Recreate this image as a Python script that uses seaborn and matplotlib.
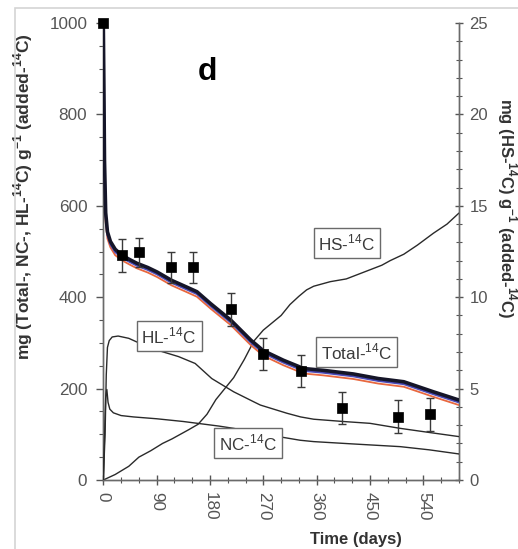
import matplotlib
matplotlib.use("Agg")
import matplotlib.pyplot as plt
from matplotlib.patches import Rectangle
from matplotlib.ticker import MultipleLocator
import seaborn as sns
import pandas as pd

# ---------------- data ----------------
total_days = [0, 1, 2, 4, 7, 12, 20, 31, 45, 57, 75, 91, 115, 141, 158, 181, 215, 249, 270, 304, 338, 371, 422, 464, 507, 557, 600]
total_black = [1000, 860, 700, 585, 543, 522, 505, 492, 482, 474, 465, 455, 437, 422, 412, 386, 350, 306, 283, 262, 244, 240, 232, 222, 215, 193, 175]
total_blue = [1000, 855, 695, 578, 537, 516, 499, 487, 477, 469, 460, 450, 432, 417, 407, 381, 345, 301, 278, 257, 239, 235, 227, 217, 210, 188, 170]
total_red = [1000, 845, 680, 565, 528, 509, 492, 481, 471, 463, 454, 444, 426, 411, 401, 375, 339, 295, 272, 251, 233, 229, 221, 211, 204, 182, 164]

hl_days = [0, 3, 5, 7, 10, 15, 25, 43, 60, 80, 99, 127, 155, 183, 197, 220, 254, 265, 290, 310, 333, 355, 405, 450, 501, 550, 600]
hl_vals = [0, 100, 230, 290, 305, 313, 315, 310, 300, 292, 281, 270, 255, 222, 211, 193, 171, 164, 154, 146, 138, 133, 128, 124, 113, 104, 95]

nc_days = [0, 2, 4, 6, 8, 11, 17, 30, 51, 90, 135, 195, 220, 265, 300, 332, 355, 420, 501, 550, 600]
nc_vals = [0, 90, 180, 198, 170, 155, 147, 141, 138, 134, 128, 118, 113, 102, 94, 87, 84, 79, 73, 66, 57]

hs_days = [0, 10, 20, 43, 60, 80, 100, 116, 144, 160, 175, 190, 205, 220, 238, 254, 270, 285, 300, 315, 330, 343, 355, 383, 410, 434, 470, 484, 507, 530, 557, 580, 600]
hs_vals = [0, 0.15, 0.3, 0.75, 1.25, 1.6, 2.0, 2.25, 2.75, 3.05, 3.6, 4.4, 5.0, 5.6, 6.6, 7.6, 8.2, 8.6, 9.0, 9.6, 10.05, 10.4, 10.6, 10.85, 11.0, 11.3, 11.75, 12.0, 12.35, 12.85, 13.5, 14.0, 14.6]

pt_days = [0, 31, 60, 115, 151, 215, 270, 333, 402, 497, 552]
pt_vals = [1000, 492, 498, 466, 466, 374, 275, 239, 157, 138, 144]
pt_err = [0, 36, 32, 34, 34, 36, 35, 35, 35, 36, 36]

x_ticks = [0, 90, 180, 270, 360, 450, 540]
y_ticks = [0, 200, 400, 600, 800, 1000]
y2_ticks = [0, 5, 10, 15, 20, 25]

# ---------------- style ----------------
sns.set_style("white")
plt.rcParams["font.family"] = ["Liberation Sans", "DejaVu Sans"]
plt.rcParams["mathtext.fontset"] = "custom"
plt.rcParams["mathtext.rm"] = "Liberation Sans"
plt.rcParams["mathtext.bf"] = "Liberation Sans:bold"

fig = plt.figure(figsize=(5.18, 5.49), dpi=100)
W, H = 518, 549
x0, x1, ytop, ybot = 103.3, 458.9, 23, 480
ax = fig.add_axes([x0 / W, 1 - ybot / H, (x1 - x0) / W, (ybot - ytop) / H])
ax2 = ax.twinx()

# figure frame
fig.patches.append(Rectangle((15 / W, -0.1), 1.2, 1 - 8 / H + 0.1, transform=fig.transFigure,
                             fill=False, ec="#d4d4d4", lw=1.2))

line_c = "#2a2a2a"
df_tot = pd.DataFrame({"day": total_days, "black": total_black, "blue": total_blue, "red": total_red})
sns.lineplot(data=df_tot, x="day", y="red", ax=ax, color="#e8683f", lw=1.3, zorder=3)
sns.lineplot(data=df_tot, x="day", y="blue", ax=ax, color="#4a4ab8", lw=1.6, zorder=4)
sns.lineplot(data=df_tot, x="day", y="black", ax=ax, color="#151528", lw=2.6, zorder=5)

sns.lineplot(x=hl_days, y=hl_vals, ax=ax, color=line_c, lw=1.0, zorder=3)
sns.lineplot(x=nc_days, y=nc_vals, ax=ax, color=line_c, lw=1.0, zorder=3)
sns.lineplot(x=hs_days, y=hs_vals, ax=ax2, color=line_c, lw=1.0, zorder=3)

# observed points
ax.errorbar(pt_days[1:], pt_vals[1:], yerr=pt_err[1:], fmt="none", ecolor="#3a3a3a",
            elinewidth=1.0, capsize=2.6, capthick=1.0, zorder=6)
sns.scatterplot(x=pt_days, y=pt_vals, ax=ax, marker="s", s=52, color="black",
                edgecolor="black", linewidth=0.5, zorder=7, clip_on=False)

# axes ranges
ax.set_xlim(0, 600)
ax.set_ylim(0, 1000)
ax2.set_ylim(0, 25)

ax.set_xticks(x_ticks)
ax.set_xticklabels([str(v) for v in x_ticks], rotation=-90)
ax.xaxis.set_minor_locator(MultipleLocator(30))
ax.set_yticks(y_ticks)
ax.yaxis.set_minor_locator(MultipleLocator(50))
ax2.set_yticks(y2_ticks)
ax2.yaxis.set_minor_locator(MultipleLocator(1))

FS = 12.3
tick_c = "#555555"
lab_c = "#555555"
for a in (ax, ax2):
    for s in a.spines.values():
        s.set_color("#6a6a6a")
        s.set_linewidth(1.0)
    a.spines["top"].set_visible(False)
ax.tick_params(axis="x", which="major", direction="inout", length=7, width=1, color=tick_c,
               labelsize=FS, labelcolor=lab_c, pad=5, bottom=True)
ax.tick_params(axis="x", which="minor", direction="inout", length=4, width=0.8, color=tick_c, bottom=True)
ax.tick_params(axis="y", which="major", direction="out", length=5, width=1, color=tick_c,
               labelsize=FS, labelcolor=lab_c, pad=6.5, left=True)
ax.tick_params(axis="y", which="minor", direction="out", length=3, width=0.8, color=tick_c, left=True)
ax2.tick_params(axis="y", which="major", direction="inout", length=6, width=1, color=tick_c,
                labelsize=12, labelcolor=lab_c, pad=4.5, right=True)
ax2.tick_params(axis="y", which="minor", direction="inout", length=4, width=0.8, color=tick_c, right=True)

ax.set_xlabel("Time (days)", fontsize=12, fontweight="bold", color="#333333")
ax.xaxis.set_label_coords((356 - x0) / (x1 - x0), (ybot - 532) / (ybot - ytop))
ax.set_ylabel(r"mg (Total-, NC-, HL-$^{\mathbf{14}}$C) g$^{\mathbf{-1}}$ (added-$^{\mathbf{14}}$C)",
              fontsize=12.5, fontweight="bold", color="#333333")
ax.yaxis.set_label_coords((35 - x0) / (x1 - x0), (ybot - 197) / (ybot - ytop))
ax2.set_ylabel(r"mg (HS-$^{\mathbf{14}}$C) g$^{\mathbf{-1}}$ (added-$^{\mathbf{14}}$C)",
               fontsize=12, fontweight="bold", color="#333333", rotation=-90)
ax2.yaxis.label.set_verticalalignment("center")
ax2.yaxis.label.set_horizontalalignment("center")
ax2.yaxis.set_label_coords((507 - x0) / (x1 - x0), (ybot - 208) / (ybot - ytop))

# panel letter
ax.text(175, 893, "d", fontsize=23, fontweight="bold", ha="center", va="center", color="black")

# series labels
box = dict(boxstyle="square,pad=0.28", fc="white", ec="#6a6a6a", lw=1.0)
for txt, xd, yd in [("HS-$^{14}$C", 411, 519), ("Total-$^{14}$C", 427, 280),
                    ("HL-$^{14}$C", 111, 315), ("NC-$^{14}$C", 244, 81)]:
    ax.text(xd, yd, txt, fontsize=FS, ha="center", va="center", color="#3a3a3a",
            bbox=box, zorder=10)

ax.set_zorder(ax2.get_zorder() + 1)
ax.patch.set_visible(False)

fig.savefig("out.png", dpi=100)
